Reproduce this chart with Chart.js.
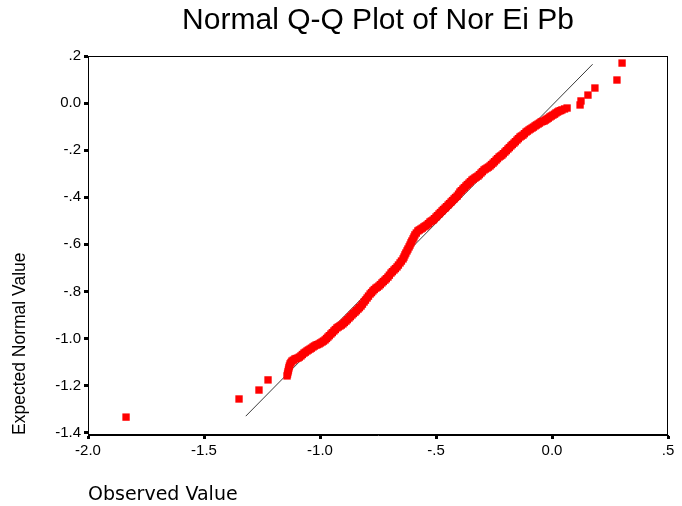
<!DOCTYPE html>
<html><head><meta charset="utf-8">
<script src="https://cdn.jsdelivr.net/npm/chart.js@4/dist/chart.umd.min.js"></script>
<style>html,body{margin:0;padding:0;background:#fff;overflow:hidden;}</style>
</head><body>
<canvas id="c" width="682" height="506"></canvas>
<script>
const observed = [
  -1.836, -1.349, -1.263, -1.224,
  -1.142, -1.138, -1.134, -1.129, -1.121, -1.108, -1.095, -1.082, -1.069, -1.056,
  -1.043, -1.030, -1.017, -1.004, -0.991, -0.978, -0.966, -0.953, -0.940, -0.927,
  -0.914, -0.901, -0.888, -0.875, -0.862, -0.849, -0.836, -0.823, -0.810, -0.797,
  -0.784, -0.772, -0.759, -0.746, -0.733, -0.720, -0.707, -0.694, -0.681, -0.668,
  -0.655, -0.642, -0.634, -0.625, -0.616, -0.608, -0.599, -0.591, -0.578, -0.565,
  -0.552, -0.539, -0.526, -0.513, -0.500, -0.487, -0.474, -0.461, -0.448, -0.435,
  -0.422, -0.409, -0.397, -0.384, -0.371, -0.358, -0.345, -0.332, -0.319, -0.306,
  -0.293, -0.280, -0.267, -0.254, -0.241, -0.228, -0.216, -0.203, -0.190, -0.177,
  -0.164, -0.151, -0.138, -0.125, -0.112, -0.099, -0.086, -0.073, -0.060, -0.047,
  -0.034, -0.022, -0.009, 0.004, 0.017, 0.030, 0.043, 0.065,
  0.121, 0.125, 0.155, 0.185, 0.280, 0.302,
  -1.140, -1.136, -1.132, -1.125, -1.115, -1.102, -1.089, -1.076, -1.063, -1.050,
  -1.037, -1.024, -1.011, -0.998, -0.985, -0.972, -0.960, -0.947, -0.934, -0.921,
  -0.908, -0.895, -0.882, -0.869, -0.856, -0.843, -0.830, -0.817, -0.804, -0.791,
  -0.778, -0.766, -0.753, -0.740, -0.727, -0.714, -0.701, -0.688, -0.675, -0.662,
  -0.649, -0.638, -0.630, -0.621, -0.612, -0.604, -0.595, -0.585, -0.572, -0.559,
  -0.546, -0.533, -0.520, -0.507, -0.494, -0.481, -0.468, -0.455, -0.442, -0.429,
  -0.416, -0.403, -0.391, -0.378, -0.365, -0.352, -0.339, -0.326, -0.313, -0.300,
  -0.287, -0.274, -0.261, -0.248, -0.235, -0.222, -0.210, -0.197, -0.184, -0.171,
  -0.158, -0.145, -0.132, -0.119, -0.106, -0.093, -0.080, -0.067, -0.054, -0.041,
  -0.028, -0.016, -0.003, 0.011, 0.024, 0.037, 0.054
];
const expected = [
  -1.334, -1.257, -1.219, -1.176,
  -1.159, -1.142, -1.125, -1.108, -1.096, -1.087, -1.083, -1.074, -1.062, -1.053,
  -1.045, -1.036, -1.028, -1.023, -1.015, -1.006, -0.994, -0.981, -0.968, -0.955,
  -0.947, -0.938, -0.926, -0.913, -0.900, -0.888, -0.875, -0.862, -0.845, -0.828,
  -0.811, -0.798, -0.786, -0.777, -0.764, -0.752, -0.739, -0.722, -0.709, -0.696,
  -0.679, -0.662, -0.645, -0.628, -0.611, -0.594, -0.577, -0.560, -0.543, -0.535,
  -0.526, -0.518, -0.505, -0.497, -0.484, -0.471, -0.458, -0.446, -0.433, -0.420,
  -0.407, -0.395, -0.378, -0.365, -0.352, -0.340, -0.327, -0.318, -0.310, -0.297,
  -0.284, -0.276, -0.267, -0.255, -0.242, -0.229, -0.221, -0.208, -0.195, -0.182,
  -0.170, -0.157, -0.144, -0.136, -0.123, -0.114, -0.106, -0.097, -0.089, -0.080,
  -0.076, -0.068, -0.059, -0.051, -0.042, -0.034, -0.029, -0.021,
  -0.008, 0.009, 0.034, 0.064, 0.098, 0.170,
  -1.151, -1.134, -1.117, -1.102, -1.092, -1.085, -1.079, -1.068, -1.058, -1.049,
  -1.041, -1.032, -1.026, -1.019, -1.011, -1.000, -0.988, -0.975, -0.962, -0.951,
  -0.943, -0.932, -0.920, -0.907, -0.894, -0.882, -0.869, -0.854, -0.837, -0.820,
  -0.805, -0.792, -0.782, -0.771, -0.758, -0.746, -0.731, -0.716, -0.703, -0.688,
  -0.671, -0.654, -0.637, -0.620, -0.603, -0.586, -0.569, -0.552, -0.539, -0.531,
  -0.522, -0.512, -0.501, -0.491, -0.478, -0.465, -0.452, -0.440, -0.427, -0.414,
  -0.401, -0.387, -0.372, -0.359, -0.346, -0.334, -0.323, -0.314, -0.304, -0.291,
  -0.280, -0.272, -0.261, -0.249, -0.236, -0.225, -0.215, -0.202, -0.189, -0.176,
  -0.164, -0.151, -0.140, -0.130, -0.119, -0.110, -0.102, -0.093, -0.085, -0.078,
  -0.072, -0.064, -0.055, -0.047, -0.038, -0.032, -0.025
];
// Reference line end points
const refLineX = [-1.32, 0.175];
const refLineY = [-1.33, 0.165];
// Axis ticks and labels
const xTicks = [-2.0, -1.5, -1.0, -0.5, 0.0, 0.5];
const xTickLabels = ['-2.0', '-1.5', '-1.0', '-.5', '0.0', '.5'];
const yTicks = [0.2, 0.0, -0.2, -0.4, -0.6, -0.8, -1.0, -1.2, -1.4];
const yTickLabels = ['.2', '0.0', '-.2', '-.4', '-.6', '-.8', '-1.0', '-1.2', '-1.4'];

const FONT = "'Liberation Sans', Arial, sans-serif";
const WIDE = "'DejaVu Sans', Verdana, sans-serif";

const pts = observed.map((x, i) => ({x: x, y: expected[i]}));
const linePts = refLineX.map((x, i) => ({x: x, y: refLineY[i]}));

function labelFor(ticks, labels, v) {
  for (let i = 0; i < ticks.length; i++) if (Math.abs(ticks[i] - v) < 1e-6) return labels[i];
  return '';
}

const boxPlugin = {
  id: 'box',
  beforeDatasetsDraw(chart) {
    const {ctx, chartArea: a} = chart;
    ctx.save();
    ctx.strokeStyle = '#000';
    ctx.lineWidth = 1;
    ctx.strokeRect(Math.round(a.left) + 0.5, Math.round(a.top) + 0.5,
                   Math.round(a.right - a.left) - 1, Math.round(a.bottom - a.top) - 1);
    ctx.restore();
  }
};

new Chart(document.getElementById('c'), {
  type: 'scatter',
  data: {
    datasets: [
      {
        data: pts,
        pointStyle: 'rect',
        pointRadius: 5.2,
        pointBorderWidth: 0,
        backgroundColor: '#ff0000',
        borderColor: '#ff0000',
        showLine: false
      },
      {
        data: linePts,
        showLine: true,
        pointRadius: 0,
        borderColor: '#3a3a3a',
        borderWidth: 1,
        fill: false
      }
    ]
  },
  options: {
    responsive: false,
    animation: false,
    devicePixelRatio: 1,
    layout: {padding: {left: 0, right: 14, top: 0, bottom: 0}},
    plugins: {
      legend: {display: false},
      tooltip: {enabled: false},
      title: {
        display: true,
        text: 'Normal Q-Q Plot of Nor Ei Pb',
        fullSize: false,
        color: '#000',
        font: {family: FONT, size: 30, weight: 'normal', lineHeight: 1.2},
        padding: {top: 3, bottom: 17}
      }
    },
    scales: {
      x: {
        type: 'linear',
        min: -2.0,
        max: 0.5,
        afterBuildTicks: s => { s.ticks = xTicks.map(v => ({value: v})); },
        afterFit: s => { s.height = 71; },
        ticks: {
          color: '#000',
          font: {family: FONT, size: 15},
          padding: 3,
          maxRotation: 0,
          autoSkip: false,
          callback: v => labelFor(xTicks, xTickLabels, v)
        },
        grid: {drawOnChartArea: false, drawTicks: true, tickLength: 4, tickWidth: 3, tickColor: '#000'},
        border: {display: true, color: '#000', width: 1},
        title: {
          display: true,
          text: 'Observed Value',
          align: 'start',
          color: '#000',
          font: {family: WIDE, size: 19, lineHeight: 1.2},
          padding: {top: 1, bottom: 0}
        }
      },
      y: {
        type: 'linear',
        min: -1.41,
        max: 0.2,
        afterBuildTicks: s => { s.ticks = yTicks.map(v => ({value: v})); },
        afterFit: s => { s.width = 88; },
        ticks: {
          color: '#000',
          font: {family: FONT, size: 15},
          padding: 3,
          autoSkip: false,
          callback: v => labelFor(yTicks, yTickLabels, v)
        },
        grid: {drawOnChartArea: false, drawTicks: true, tickLength: 4, tickWidth: 3, tickColor: '#000'},
        border: {display: true, color: '#000', width: 1},
        title: {
          display: true,
          text: 'Expected Normal Value',
          align: 'start',
          color: '#000',
          font: {family: FONT, size: 17.5, lineHeight: 1.2},
          padding: {top: 10, bottom: 0}
        }
      }
    }
  },
  plugins: [boxPlugin]
});
</script>
</body></html>
